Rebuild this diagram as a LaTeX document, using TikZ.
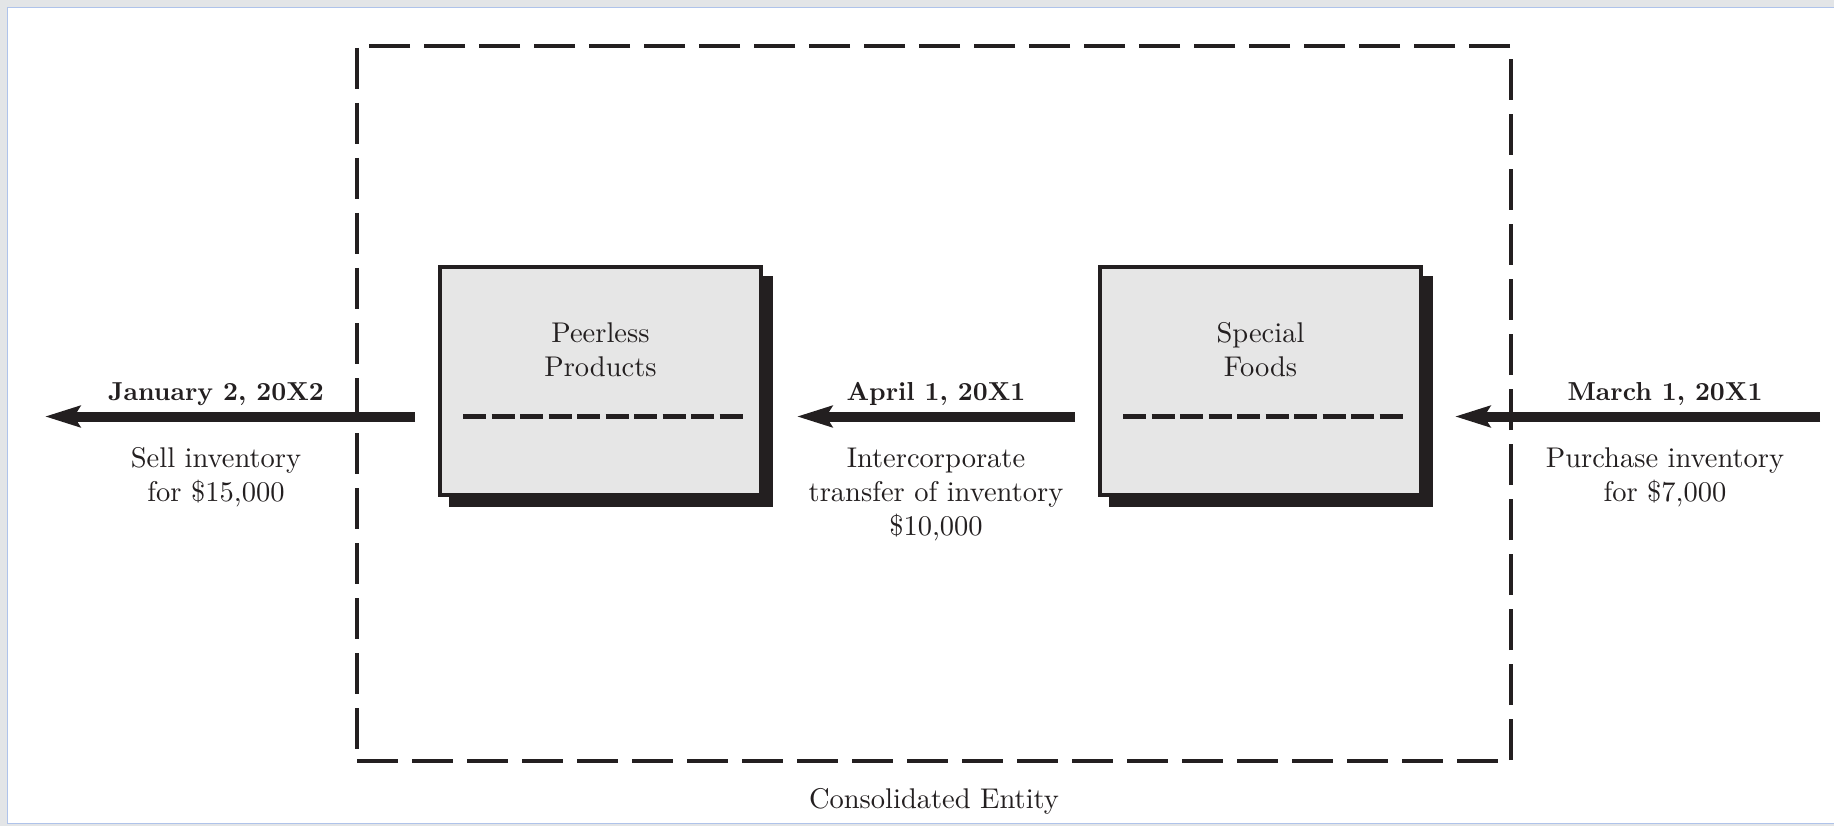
\documentclass[tikz,border=0pt]{standalone}
\usepackage{fontspec}
\setmainfont{lmroman10-regular.otf}[BoldFont=lmroman10-bold.otf]
\usetikzlibrary{arrows.meta,calc}

\definecolor{ink}{HTML}{231F20}
\definecolor{boxfill}{HTML}{E6E6E6}
\definecolor{framegrey}{HTML}{E3E5E7}
\definecolor{frameblue}{HTML}{AFC3EA}

\tikzset{
  entity/.style={draw=ink, line width=4pt, dash pattern=on 41pt off 14pt,
    minimum width=1154pt, minimum height=715pt, inner sep=0pt},
  company/.style={draw=ink, fill=boxfill, line width=4pt,
    minimum width=321pt, minimum height=228pt, inner sep=0pt},
  divider/.style={draw=ink, line width=5pt, dash pattern=on 23pt off 5.5pt},
  flow/.style={draw=ink, line width=10pt,
    -{Stealth[length=35pt,width=21pt,inset=6pt]}},
  txt/.style={text=ink, font=\fontsize{28.5}{34}\selectfont, inner sep=0pt},
  date/.style={text=ink, font=\fontsize{26}{34}\selectfont\bfseries,
    inner sep=0pt, anchor=base},
  note/.style={txt, align=center, anchor=north},
}

\begin{document}
\begin{tikzpicture}[x=1pt,y=-1pt]
  \useasboundingbox (0,0) rectangle (1834,826);

  % page frame
  \fill[framegrey] (0,0) rectangle (1834,826);
  \fill[white] (8,8) rectangle (1834,823);
  \draw[frameblue, line width=1.5pt] (1834,7.5) -- (7.5,7.5) -- (7.5,823.5) -- (1834,823.5);

  % consolidated entity boundary
  \node[entity] (ce) at (934,403.5) {};
  \node[txt, anchor=base] (celabel) at (ce.south |- 0,808) {Consolidated Entity};

  % company boxes with their drop shadows
  \fill[ink] (449,276) rectangle (773,507);
  \node[company] (pp) at (600.5,381) {};
  \fill[ink] (1109,276) rectangle (1433,507);
  \node[company] (sf) at (1260.5,381) {};

  \node[note] (ppname) at (600.5,321) {\rule{0pt}{21pt}Peerless\\Products};
  \node[note] (sfname) at (1260.5,321) {\rule{0pt}{21pt}Special\\Foods};

  \draw[divider] ([shift={(25,35.5)}]pp.west) -- ([shift={(-18,35.5)}]pp.east);
  \draw[divider] ([shift={(25,35.5)}]sf.west) -- ([shift={(-18,35.5)}]sf.east);

  % inventory flows
  \coordinate (market) at (45,416.5);
  \coordinate (supplier) at (1820,416.5);
  \draw[flow] ([shift={(-23,35.5)}]pp.west) -- (market);
  \draw[flow] ([shift={(-23,35.5)}]sf.west) -- ([shift={(34,35.5)}]pp.east);
  \draw[flow] (supplier) -- ([shift={(32,35.5)}]sf.east);

  % flow labels
  \node[date] (d1) at (216,400) {January 2, 20X2};
  \node[date] (d2) at (936,400) {April 1, 20X1};
  \node[date] (d3) at (1665,400) {March 1, 20X1};

  \node[note] (n1) at (216,446) {\rule{0pt}{21pt}Sell inventory\\for \$15,000};
  \node[note] (n2) at (936,446) {\rule{0pt}{21pt}Intercorporate\\transfer of inventory\\\$10,000};
  \node[note] (n3) at (1665,446) {\rule{0pt}{21pt}Purchase inventory\\for \$7,000};
\end{tikzpicture}
\end{document}
